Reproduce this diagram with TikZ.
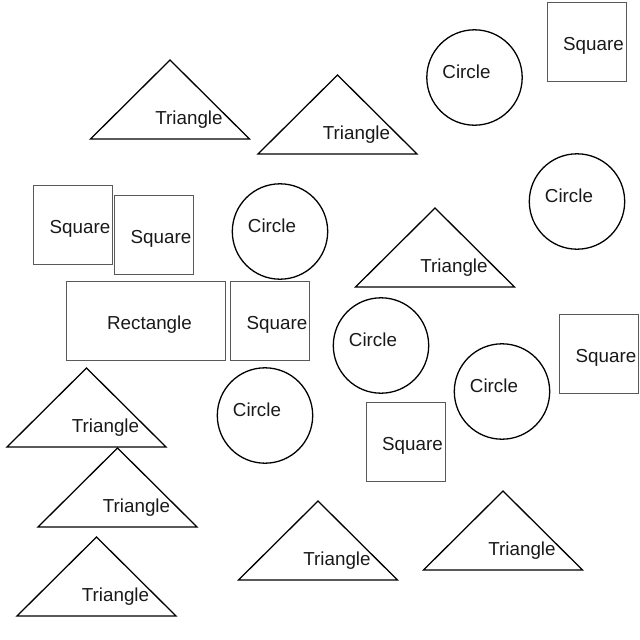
\documentclass[tikz,border=0pt]{standalone}
\usepackage{fontspec}
\setmainfont{Liberation Sans}
\begin{document}
\begin{tikzpicture}[x=1pt,y=-1pt,
  blk/.style={draw=black,line width=1.3pt,line join=miter},
  gry/.style={draw=black!65,line width=1pt},
  lbl/.style={inner sep=0pt,anchor=base,font=\fontsize{18.8}{22}\selectfont,text=black!90}]
\useasboundingbox (0,0) rectangle (640,640);
\newcommand\ShTri[3]{%
  \coordinate (#1) at (#2,#3);
  \draw[blk] (#1) -- ++(-79.5,79) -- ++(159,0) -- cycle;
  \node[lbl] (#1l) at ([shift={(19,64.5)}]#1) {Triangle};}
\newcommand\ShCirc[3]{%
  \coordinate (#1) at (#2,#3);
  \draw[blk] (#1) circle[radius=47.7];
  \node[lbl] (#1l) at ([shift={(-8,1)}]#1) {Circle};}
\newcommand\ShSq[3]{%
  \coordinate (#1) at (#2,#3);
  \draw[gry] ([shift={(-39.5,-39.5)}]#1) rectangle ([shift={(39.5,39.5)}]#1);
  \node[lbl] (#1l) at ([shift={(7,8.5)}]#1) {Square};}
% triangles
\ShTri{t1}{170}{60}
\ShTri{t2}{337.5}{75}
\ShTri{t3}{435}{208}
\ShTri{t4}{86.5}{368}
\ShTri{t5}{117.5}{448}
\ShTri{t6}{96.5}{537}
\ShTri{t7}{318}{501}
\ShTri{t8}{503}{491}
% circles
\ShCirc{c1}{474.5}{77.5}
\ShCirc{c2}{577}{201.5}
\ShCirc{c3}{280}{231.5}
\ShCirc{c4}{381}{345.5}
\ShCirc{c5}{265}{415.5}
\ShCirc{c6}{502}{391.5}
% squares
\ShSq{s1}{586.5}{41.5}
\ShSq{s2}{73}{224.5}
\ShSq{s3}{154}{234.5}
\ShSq{s4}{270}{320.5}
\ShSq{s5}{599}{354}
\ShSq{s6}{405.5}{441.5}
% rectangle
\coordinate (r1) at (145.5,320.5);
\draw[gry] ([shift={(-79.5,-39.5)}]r1) rectangle ([shift={(79.5,39.5)}]r1);
\node[lbl] (r1l) at ([shift={(4,8.5)}]r1) {Rectangle};
\end{tikzpicture}
\end{document}
